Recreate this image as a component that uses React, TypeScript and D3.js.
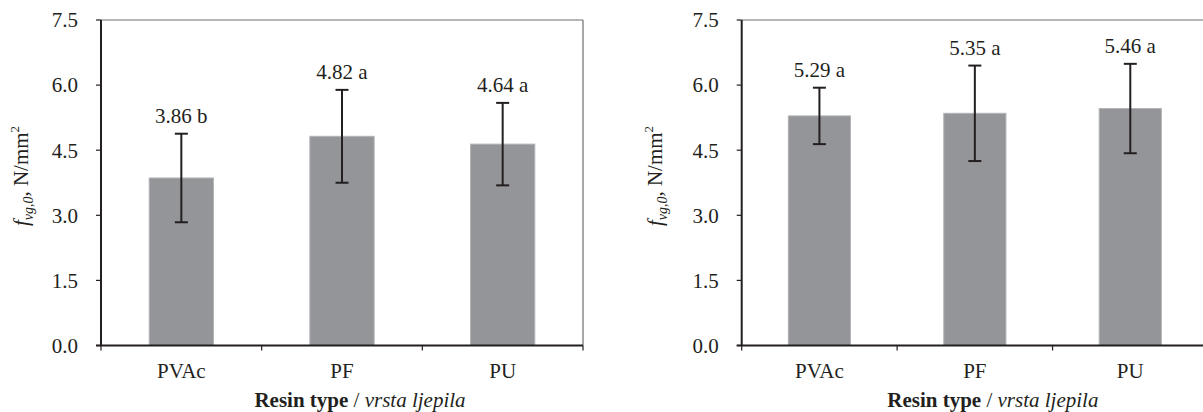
import React from "react";
import * as d3 from "d3";

const categories = ["PVAc", "PF", "PU"];
const leftMeans = [3.86, 4.82, 4.64];
const leftErrors = [1.02, 1.07, 0.95];
const leftLetters = ["b", "a", "a"];
const rightMeans = [5.29, 5.35, 5.46];
const rightErrors = [0.65, 1.1, 1.03];
const rightLetters = ["a", "a", "a"];
const yTicks = [0, 1.5, 3.0, 4.5, 6.0, 7.5];

const FONT = '"Liberation Serif"';
const FS = 21;

type PanelProps = {
  x0: number;
  x1: number;
  labelX: number;
  means: number[];
  errors: number[];
  letters: string[];
};

function Panel({ x0, x1, labelX, means, errors, letters }: PanelProps) {
  const yTop = 20;
  const yBot = 345.5;
  const y = d3.scaleLinear().domain([0, 7.5]).range([yBot, yTop]);
  const x = d3
    .scaleBand<string>()
    .domain(categories)
    .range([x0, x1])
    .paddingInner(0.6)
    .paddingOuter(0.3);
  const step = (x1 - x0) / categories.length;
  const boundaries = d3.range(categories.length + 1).map((i) => x0 + i * step);
  const capHalf = 6.5;
  const midY = 176;
  return (
    <g style={{ fontFamily: FONT, fontSize: FS }} fill="#231f20">
      <line x1={x0} x2={x1} y1={yTop} y2={yTop} stroke="#6d6e71" strokeWidth={1.2} />
      <line x1={x1} x2={x1} y1={yTop} y2={yBot} stroke="#6d6e71" strokeWidth={1.2} />
      {categories.map((c, i) => (
        <rect
          key={c}
          x={x(c)}
          y={y(means[i])}
          width={x.bandwidth()}
          height={yBot - y(means[i])}
          fill="#939598"
          stroke="#b1b3b5"
          strokeWidth={1}
        />
      ))}
      {categories.map((c, i) => {
        const cx = (x(c) as number) + x.bandwidth() / 2;
        const top = y(means[i] + errors[i]);
        const bot = y(means[i] - errors[i]);
        return (
          <g key={c} stroke="#231f20" strokeWidth={2}>
            <line x1={cx} x2={cx} y1={top} y2={bot} />
            <line x1={cx - capHalf} x2={cx + capHalf} y1={top} y2={top} />
            <line x1={cx - capHalf} x2={cx + capHalf} y1={bot} y2={bot} />
          </g>
        );
      })}
      {categories.map((c, i) => {
        const cx = (x(c) as number) + x.bandwidth() / 2;
        const top = y(means[i] + errors[i]);
        return (
          <text key={c} x={cx} y={top - 10.5} textAnchor="middle">
            {means[i].toFixed(2) + " " + letters[i]}
          </text>
        );
      })}
      <line x1={x0} x2={x0} y1={yTop} y2={yBot} stroke="#231f20" strokeWidth={2} />
      {yTicks.map((t) => (
        <g key={t}>
          <line x1={x0 - 5} x2={x0} y1={y(t)} y2={y(t)} stroke="#231f20" strokeWidth={1.2} />
          <text x={x0 - 23} y={y(t)} dy="0.35em" textAnchor="end">
            {t.toFixed(1)}
          </text>
        </g>
      ))}
      <line x1={x0 - 5} x2={x1} y1={yBot} y2={yBot} stroke="#231f20" strokeWidth={2} />
      {boundaries.map((b, i) => (
        <line key={i} x1={b} x2={b} y1={yBot} y2={yBot + 5} stroke="#231f20" strokeWidth={1.2} />
      ))}
      {categories.map((c) => (
        <text key={c} x={(x(c) as number) + x.bandwidth() / 2} y={378} textAnchor="middle">
          {c}
        </text>
      ))}
      <text x={(x0 + x1) / 2 + 18} y={407} textAnchor="middle">
        <tspan fontWeight="bold">Resin type</tspan>
        <tspan> / </tspan>
        <tspan fontStyle="italic">vrsta ljepila</tspan>
      </text>
      <text transform={`translate(${labelX},${midY}) rotate(-90)`} textAnchor="middle">
        <tspan fontStyle="italic">f</tspan>
        <tspan fontStyle="italic" fontSize={14} dy={5}>vg,0</tspan>
        <tspan dy={-5}>, N/mm</tspan>
        <tspan fontSize={13} dy={-9}>2</tspan>
      </text>
    </g>
  );
}

export default function App() {
  return (
    <div style={{ position: "absolute", left: 0, top: 0 }}>
      <svg width={1203} height={412} style={{ display: "block", background: "#fff" }}>
        <Panel x0={101} x1={583} labelX={28} means={leftMeans} errors={leftErrors} letters={leftLetters} />
        <Panel x0={741.7} x1={1208} labelX={662} means={rightMeans} errors={rightErrors} letters={rightLetters} />
      </svg>
    </div>
  );
}
